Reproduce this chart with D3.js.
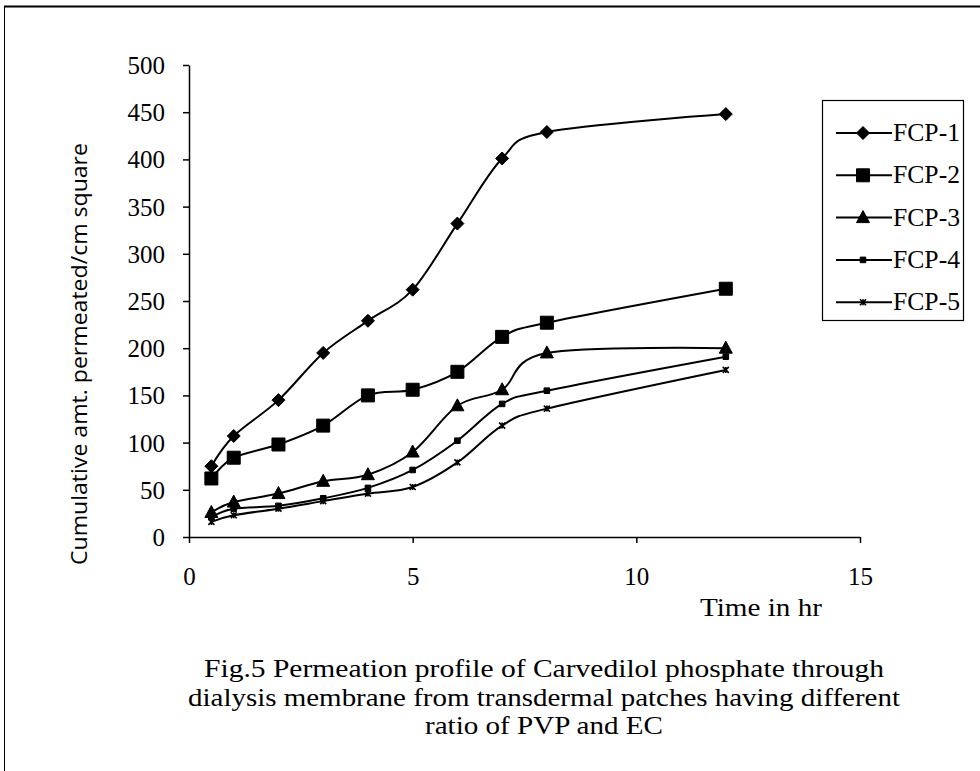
<!DOCTYPE html>
<html>
<head>
<meta charset="utf-8">
<script src="https://cdn.jsdelivr.net/npm/d3@7"></script>
<style>
html,body{margin:0;padding:0;background:#fff;}
svg{display:block;}
</style>
</head>
<body>
<svg id="chart" width="980" height="771"></svg>
<script>
// ---- data ----
const timeHr = [0.5, 1, 2, 3, 4, 5, 6, 7, 8, 12];
const fcp1 = [75, 107, 145, 195, 229, 262, 332, 401, 429, 448];
const fcp2 = [62, 84, 98, 118, 150, 156, 175, 212, 227, 263];
const fcp3 = [26, 37, 46, 59, 66, 90, 139, 156, 195, 200];
const fcp4 = [21, 30, 33, 41, 52, 71, 102, 141, 155, 191];
const fcp5 = [16, 23, 30, 38, 46, 53, 79, 118, 136, 177];
const seriesNames = ["FCP-1", "FCP-2", "FCP-3", "FCP-4", "FCP-5"];
const xTicks = [0, 5, 10, 15];
const yTicks = [0, 50, 100, 150, 200, 250, 300, 350, 400, 450, 500];
const captionLines = [
  "Fig.5 Permeation profile of Carvedilol phosphate through",
  "dialysis membrane from transdermal patches having different",
  "ratio of PVP and EC"
];

const seriesValues = [fcp1, fcp2, fcp3, fcp4, fcp5];
const markerKinds = ["diamond", "square", "triangle", "smallsquare", "cross"];

const svg = d3.select("#chart");
const serif = "'Liberation Serif','Times New Roman',serif";
const sans = "'Open Sans','Liberation Sans',sans-serif";

// outer frame
svg.append("line").attr("x1", 4).attr("x2", 980).attr("y1", 6.5).attr("y2", 6.5)
  .attr("stroke", "#000").attr("stroke-width", 2);
svg.append("line").attr("x1", 4.5).attr("x2", 4.5).attr("y1", 6).attr("y2", 771)
  .attr("stroke", "#000").attr("stroke-width", 1);

const x = d3.scaleLinear().domain([0, 15]).range([189, 860]);
const y = d3.scaleLinear().domain([0, 500]).range([537, 65]);

// axes
const xAxis = svg.append("g").attr("transform", `translate(0,${y(0)})`)
  .call(d3.axisBottom(x).tickValues(xTicks).tickSize(6).tickSizeOuter(0).tickPadding(24).tickFormat(d3.format("d")));
const yAxis = svg.append("g").attr("transform", `translate(${x(0)},0)`)
  .call(d3.axisLeft(y).tickValues(yTicks).tickSize(6).tickSizeOuter(0).tickPadding(18).tickFormat(d3.format("d")));
[xAxis, yAxis].forEach(g => {
  g.select(".domain").attr("stroke", "#000").attr("stroke-width", 1.5);
  g.selectAll(".tick line").attr("stroke", "#000").attr("stroke-width", 1.5);
  g.selectAll(".tick text").attr("font-family", serif).attr("font-size", 25).attr("fill", "#000");
});
yAxis.selectAll(".tick text").attr("dy", "0.34em");

// markers
function markerPath(kind) {
  const p = d3.path();
  if (kind === "diamond") {
    const r = 6.5;
    p.moveTo(0, -r); p.lineTo(r, 0); p.lineTo(0, r); p.lineTo(-r, 0); p.closePath();
  } else if (kind === "square") {
    const r = 6.5;
    p.rect(-r, -r, 2 * r, 2 * r);
  } else if (kind === "triangle") {
    p.moveTo(0, -7); p.lineTo(6.5, 5); p.lineTo(-6.5, 5); p.closePath();
  } else if (kind === "smallsquare") {
    const r = 2.8;
    p.rect(-r, -r, 2 * r, 2 * r);
  } else {
    const r = 3;
    p.moveTo(-r, -r); p.lineTo(r, r); p.moveTo(r, -r); p.lineTo(-r, r);
    p.moveTo(0, -r); p.lineTo(0, r);
  }
  return p.toString();
}

const line = d3.line()
  .x((d, i) => x(timeHr[i]))
  .y(d => y(d))
  .curve(d3.curveCatmullRom.alpha(0));

seriesValues.forEach((vals, si) => {
  const g = svg.append("g");
  g.append("path").attr("d", line(vals)).attr("fill", "none")
    .attr("stroke", "#000").attr("stroke-width", 2);
  const kind = markerKinds[si];
  g.selectAll("path.m").data(vals).enter().append("path").attr("class", "m")
    .attr("transform", (d, i) => `translate(${x(timeHr[i])},${y(d)})`)
    .attr("d", markerPath(kind))
    .attr("fill", kind === "cross" ? "none" : "#000")
    .attr("stroke", "#000").attr("stroke-width", kind === "cross" ? 1.6 : 1);
});

// y title
svg.append("text")
  .attr("transform", `translate(87,354) rotate(-90)`)
  .attr("text-anchor", "middle")
  .attr("font-family", sans).attr("font-size", 22)
  .attr("textLength", 422).attr("lengthAdjust", "spacingAndGlyphs")
  .text("Cumulative amt. permeated/cm square");

// x title
svg.append("text").attr("x", 761).attr("y", 616).attr("text-anchor", "middle")
  .attr("font-family", serif).attr("font-size", 26)
  .attr("textLength", 122).attr("lengthAdjust", "spacingAndGlyphs")
  .text("Time in hr");

// legend
const lg = svg.append("g");
lg.append("rect").attr("x", 822.5).attr("y", 100.5).attr("width", 141).attr("height", 220)
  .attr("fill", "#fff").attr("stroke", "#000").attr("stroke-width", 1.2);
seriesNames.forEach((name, i) => {
  const cy = 133 + i * 42.3;
  lg.append("line").attr("x1", 836).attr("x2", 892).attr("y1", cy).attr("y2", cy)
    .attr("stroke", "#000").attr("stroke-width", 2);
  const kind = markerKinds[i];
  lg.append("path").attr("transform", `translate(863,${cy})`).attr("d", markerPath(kind))
    .attr("fill", kind === "cross" ? "none" : "#000")
    .attr("stroke", "#000").attr("stroke-width", kind === "cross" ? 1.6 : 1);
  lg.append("text").attr("x", 893).attr("y", cy + 8)
    .attr("font-family", serif).attr("font-size", 25)
    .attr("textLength", 67).attr("lengthAdjust", "spacingAndGlyphs")
    .text(name);
});

// caption
const capLens = [680, 712, 238];
svg.append("g").selectAll("text").data(captionLines).enter().append("text")
  .attr("x", 544).attr("y", (d, i) => 677 + i * 28.5)
  .attr("text-anchor", "middle")
  .attr("font-family", serif).attr("font-size", 26)
  .attr("textLength", (d, i) => capLens[i]).attr("lengthAdjust", "spacingAndGlyphs")
  .text(d => d);
</script>
</body>
</html>
